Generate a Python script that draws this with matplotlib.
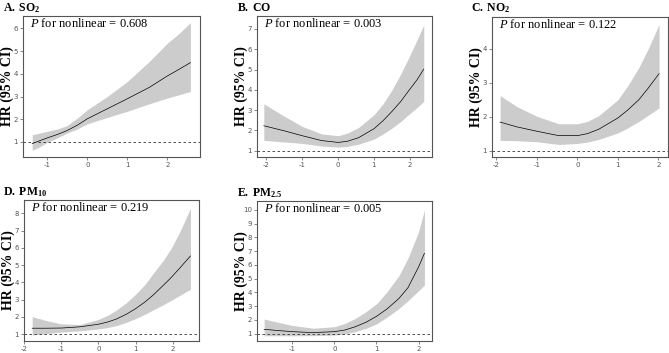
# restricted cubic spline HR curves for five pollutants

import numpy as np
import matplotlib.pyplot as plt

plt.rcParams['mathtext.fontset'] = 'custom'
plt.rcParams['mathtext.rm'] = 'Liberation Serif'
plt.rcParams['mathtext.it'] = 'Liberation Serif:italic'
plt.rcParams['mathtext.bf'] = 'Liberation Serif:bold'
plt.rcParams['axes.unicode_minus'] = False

# SO2
so2_x = [-1.38, -1.2, -1.0, -0.75, -0.51, -0.25, 0.0, 0.5, 1.0, 1.55, 2.0, 2.3, 2.58]
so2_hr = [0.93, 1.05, 1.18, 1.33, 1.5, 1.74, 2.02, 2.46, 2.9, 3.4, 3.9, 4.2, 4.49]
so2_lo = [0.63, 0.78, 0.99, 1.18, 1.39, 1.57, 1.8, 2.08, 2.35, 2.68, 2.93, 3.08, 3.22]
so2_hi = [1.32, 1.39, 1.47, 1.57, 1.72, 2.05, 2.42, 3.0, 3.66, 4.54, 5.34, 5.78, 6.25]

# CO
co_x = [-2.07, -1.5, -1.0, -0.46, 0.0, 0.25, 0.57, 1.0, 1.25, 1.5, 1.75, 1.98, 2.2, 2.39]
co_hr = [2.23, 1.98, 1.74, 1.5, 1.41, 1.46, 1.64, 2.08, 2.47, 2.93, 3.43, 3.98, 4.49, 5.02]
co_lo = [1.51, 1.43, 1.36, 1.23, 1.18, 1.21, 1.32, 1.57, 1.82, 2.11, 2.44, 2.8, 3.12, 3.43]
co_hi = [3.31, 2.7, 2.2, 1.83, 1.74, 1.86, 2.14, 2.77, 3.3, 3.98, 4.79, 5.62, 6.45, 7.2]

# NO2
no2_x = [-1.91, -1.5, -1.0, -0.46, 0.0, 0.25, 0.53, 1.0, 1.25, 1.52, 1.75, 2.02]
no2_hr = [1.84, 1.7, 1.57, 1.44, 1.44, 1.5, 1.63, 1.96, 2.2, 2.5, 2.84, 3.27]
no2_lo = [1.3, 1.29, 1.26, 1.18, 1.21, 1.25, 1.33, 1.52, 1.67, 1.86, 2.04, 2.26]
no2_hi = [2.62, 2.3, 2.01, 1.79, 1.79, 1.86, 2.03, 2.5, 2.92, 3.45, 4.0, 4.72]

# PM10
pm10_x = [-1.78, -1.4, -0.99, -0.5, 0.0, 0.25, 0.48, 0.75, 0.99, 1.25, 1.46, 1.75, 1.96, 2.2, 2.47]
pm10_hr = [1.35, 1.35, 1.36, 1.43, 1.58, 1.71, 1.88, 2.16, 2.47, 2.87, 3.25, 3.85, 4.3, 4.87, 5.53]
pm10_lo = [0.96, 1.04, 1.13, 1.2, 1.31, 1.39, 1.5, 1.69, 1.9, 2.16, 2.4, 2.72, 2.97, 3.27, 3.6]
pm10_hi = [2.02, 1.79, 1.6, 1.56, 1.86, 2.1, 2.4, 2.83, 3.3, 3.89, 4.5, 5.3, 6.0, 7.0, 8.29]

# PM2.5
pm25_x = [-1.67, -1.3, -1.0, -0.5, 0.0, 0.25, 0.49, 0.75, 1.01, 1.25, 1.53, 1.75, 2.0, 2.14]
pm25_hr = [1.32, 1.22, 1.15, 1.08, 1.15, 1.27, 1.5, 1.83, 2.28, 2.8, 3.55, 4.35, 5.85, 6.85]
pm25_lo = [0.85, 0.85, 0.85, 0.86, 0.9, 0.98, 1.15, 1.39, 1.73, 2.2, 2.82, 3.4, 4.12, 4.54]
pm25_hi = [2.07, 1.8, 1.6, 1.4, 1.51, 1.75, 2.1, 2.6, 3.2, 4.05, 5.2, 6.5, 8.4, 10.0]

titles = [r"$\mathbf{A.\ SO_2}$", r"$\mathbf{B.\ CO}$", r"$\mathbf{C.\ NO_2}$",
          r"$\mathbf{D.\ PM_{10}}$", r"$\mathbf{E.\ PM_{2.5}}$"]
p_values = ["0.608", "0.003", "0.122", "0.219", "0.005"]
x_ticks = [[-1, 0, 1, 2], [-2, -1, 0, 1, 2], [-2, -1, 0, 1, 2],
           [-2, -1, 0, 1, 2], [-1, 0, 1, 2]]
y_ticks = [range(1, 7), range(1, 8), range(1, 5), range(1, 9), range(1, 11)]
series = [(so2_x, so2_hr, so2_lo, so2_hi), (co_x, co_hr, co_lo, co_hi),
          (no2_x, no2_hr, no2_lo, no2_hi), (pm10_x, pm10_hr, pm10_lo, pm10_hi),
          (pm25_x, pm25_hr, pm25_lo, pm25_hi)]

W, H = 669, 353
# panel boxes in pixels: left, top, right, bottom
boxes = [(23, 16, 200, 157), (257, 16, 432, 157), (492, 17, 668, 157),
         (24, 200, 199, 341), (257, 201, 432, 341)]
xlims = [(-1.61, 2.82), (-2.26, 2.62), (-2.11, 2.24), (-2.0, 2.7), (-1.84, 2.32)]
ylims = [(0.34, 6.54), (0.69, 7.64), (0.81, 4.94), (0.61, 8.77), (0.47, 10.65)]
title_pos = [(3, 11), (237, 11), (471, 11), (3, 195), (237, 196)]

fig = plt.figure(figsize=(W / 100, H / 100), dpi=100)

for i in range(5):
    l, t, r, b = boxes[i]
    ax = fig.add_axes([l / W, 1 - b / H, (r - l) / W, (b - t) / H])
    x, hr, lo, hi = series[i]
    ax.fill_between(x, lo, hi, color="#cccccc", lw=0)
    ax.plot(x, hr, color="black", lw=0.5)
    ax.axhline(1, color="#333333", lw=0.6, ls=(0, (3, 3)))
    ax.set_xlim(xlims[i])
    ax.set_ylim(ylims[i])
    ax.set_xticks(x_ticks[i])
    ax.set_yticks(list(y_ticks[i]))
    ax.tick_params(labelsize=5, colors="#555555", length=2, width=0.5, pad=1.5)
    for s in ax.spines.values():
        s.set_color("#555555")
        s.set_linewidth(0.8)
    ax.annotate(r"$\mathit{P}$ for nonlinear = " + p_values[i], xy=(0, 1),
                xycoords="axes fraction", xytext=(5, -8), textcoords="offset points",
                ha="left", va="baseline", fontsize=9, family="Liberation Serif")
    fig.text((l - 16) / W, 1 - (t + b) / 2 / H, "HR (95% CI)", rotation=90,
             ha="center", va="center", fontsize=10, fontweight="bold",
             family="Liberation Serif")
    fig.text(title_pos[i][0] / W, 1 - title_pos[i][1] / H, titles[i],
             ha="left", va="baseline", fontsize=8.5)

plt.savefig("out.png", dpi=100)
